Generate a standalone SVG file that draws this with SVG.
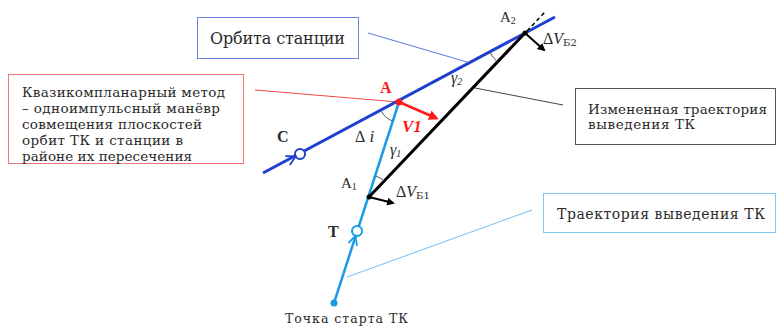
<svg xmlns="http://www.w3.org/2000/svg" width="777" height="326" viewBox="0 0 777 326">
<style>
text{font-family:"Liberation Serif","DejaVu Serif",serif;fill:#2a2a2a}
.cy{font-family:"DejaVu Serif","Liberation Serif",serif}
.box{fill:#fff}
.lbl{font-size:16px}
.it{font-style:italic}
.sub{font-size:10px}
.arc{fill:none;stroke:#555;stroke-width:1}
</style>
<defs>
<marker id="ahk" markerWidth="8" markerHeight="8" refX="6" refY="4" orient="auto" markerUnits="userSpaceOnUse">
<path d="M0,0 L8,4 L0,8 Z" fill="#000"/>
</marker>
<marker id="ahr" markerWidth="10" markerHeight="10" refX="7" refY="5" orient="auto" markerUnits="userSpaceOnUse">
<path d="M0,0 L10,5 L0,10 Z" fill="#ff1a1a"/>
</marker>
</defs>
<rect width="777" height="326" fill="#fff"/>

<g id="connectors">
<line x1="368" y1="33" x2="467" y2="62" stroke="#5a78e0" stroke-width="1"/>
<line x1="255" y1="90" x2="398" y2="102" stroke="#f04848" stroke-width="1"/>
<line x1="475" y1="88" x2="563" y2="105" stroke="#444" stroke-width="1"/>
<line x1="347" y1="277" x2="532" y2="210" stroke="#70c0f0" stroke-width="1"/>
</g>

<g id="station-orbit">
<line x1="263" y1="173" x2="555" y2="17" stroke="#1f3fd0" stroke-width="3"/>
<circle cx="300" cy="154" r="5" fill="#fff" stroke="#1f3fd0" stroke-width="2"/>
<polyline points="289.9,165 295.6,156.4 285.3,156.2" fill="none" stroke="#1f3fd0" stroke-width="1.8"/>
<text x="277" y="142" font-weight="bold" font-size="16">C</text>
</g>

<g id="tk-trajectory">
<line x1="334" y1="303" x2="399" y2="102" stroke="#1a9be8" stroke-width="2.5"/>
<circle cx="334" cy="303" r="3.5" fill="#1a9be8"/>
<circle cx="357" cy="231" r="5" fill="#fff" stroke="#1a9be8" stroke-width="2"/>
<polyline points="357,245.8 355.5,235.8 348.4,243" fill="none" stroke="#1a9be8" stroke-width="1.8"/>
<text x="328" y="237" font-weight="bold" font-size="16">T</text>
<text x="285" y="323" font-size="12.5" class="cy" textLength="123">Точка старта  ТК</text>
</g>

<g id="changed-trajectory">
<line x1="369" y1="197" x2="525" y2="33" stroke="#000" stroke-width="3"/>
<line x1="527" y1="31" x2="545" y2="12" stroke="#000" stroke-width="1.5" stroke-dasharray="4,3"/>
</g>

<g id="point-A">
<line x1="399" y1="102" x2="436" y2="118" stroke="#ff1a1a" stroke-width="2.5" marker-end="url(#ahr)"/>
<circle cx="399" cy="102" r="3.5" fill="#ff1a1a"/>
<text x="380" y="93" font-size="16" font-weight="bold" style="fill:#ff1a1a">A</text>
<text x="402" y="132" font-size="17" font-weight="bold" font-style="italic" style="fill:#ff1a1a">V1</text>
<path class="arc" d="M381.4,111.4 A20,20 0 0 0 392.8,121"/>
<text x="355" y="142" class="lbl">Δ<tspan class="it" font-size="17"> i</tspan></text>
<text x="390" y="155" class="lbl it">γ<tspan font-size="10" dy="2">1</tspan></text>
</g>

<g id="point-A1">
<line x1="369" y1="197" x2="393" y2="203" stroke="#000" stroke-width="2" marker-end="url(#ahk)"/>
<circle cx="369" cy="197" r="2.5" fill="#000"/>
<path class="arc" d="M375.8,176.1 A22,22 0 0 1 384.2,181"/>
<text x="341" y="188" font-size="15">A<tspan font-size="10" dy="2">1</tspan></text>
<text x="396" y="197" class="lbl">Δ<tspan class="it">V</tspan><tspan class="sub cy" dy="2">Б1</tspan></text>
</g>

<g id="point-A2">
<line x1="525" y1="33" x2="544" y2="50" stroke="#000" stroke-width="2" marker-end="url(#ahk)"/>
<circle cx="525" cy="33" r="2.5" fill="#000"/>
<path class="arc" d="M489.7,51.8 A40,40 0 0 0 497.4,62"/>
<text x="500" y="22" font-size="15">A<tspan font-size="10" dy="2">2</tspan></text>
<text x="543" y="44" class="lbl">Δ<tspan class="it">V</tspan><tspan class="sub cy" dy="2">Б2</tspan></text>
<text x="451" y="83" class="lbl it">γ<tspan font-size="10" dy="2">2</tspan></text>
</g>

<g id="box-orbit">
<rect x="197.5" y="17.5" width="161" height="41" class="box" stroke="#6a86e0" stroke-width="1"/>
<text x="210" y="44" font-size="16" class="cy" textLength="135">Орбита станции</text>
</g>

<g id="box-method">
<rect x="8.5" y="74.5" width="235" height="89" class="box" stroke="#f07878" stroke-width="1"/>
<text font-size="13.5" class="cy">
<tspan x="22" y="97" textLength="203">Квазикомпланарный  метод</tspan>
<tspan x="22" y="113" textLength="198">– одноимпульсный  манёвр</tspan>
<tspan x="22" y="129" textLength="180">совмещения  плоскостей</tspan>
<tspan x="22" y="145" textLength="161">орбит ТК и станции  в</tspan>
<tspan x="22" y="161" textLength="170">районе их пересечения</tspan>
</text>
</g>

<g id="box-changed">
<rect x="575.5" y="88.5" width="200" height="56" class="box" stroke="#555" stroke-width="1"/>
<text font-size="13.5" class="cy">
<tspan x="588" y="114" textLength="179">Измененная  траектория</tspan>
<tspan x="588" y="129" textLength="107">выведения ТК</tspan>
</text>
</g>

<g id="box-trajectory">
<rect x="543.5" y="193.5" width="232" height="39" class="box" stroke="#80c8f0" stroke-width="1"/>
<text x="557" y="219" font-size="14" class="cy" textLength="208">Траектория выведения ТК</text>
</g>
</svg>
